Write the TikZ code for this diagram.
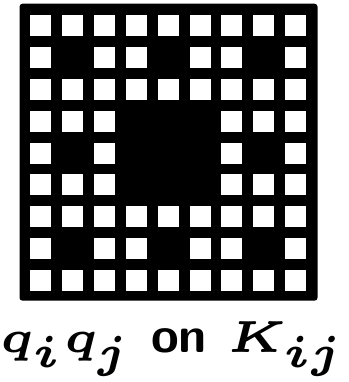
\documentclass[tikz,border=0pt]{standalone}
\usepackage{amsmath,amsfonts}
\usepackage{tikz}
\usepackage{xcolor}
\usetikzlibrary{positioning}

\begin{document}
\begin{tikzpicture}[
    x=1pt, y=1pt,
    board/.style={fill=black, rounded corners=3pt, inner sep=0pt, minimum width=298pt, minimum height=297pt},
    cell/.style={fill=white, inner sep=0pt, minimum size=21pt},
    caption/.style={font=\tiny\bfseries\boldmath, inner sep=0pt, anchor=base, scale=9, transform shape}
]
\useasboundingbox (0,0) rectangle (348,382);
\node[board] (board) at (168.5,229.8) {};
\foreach \r in {0,...,8}{
  \foreach \c in {0,...,8}{
    \pgfmathtruncatemacro\hole{(mod(\r,3)==1 && mod(\c,3)==1) || (div(\r,3)==1 && div(\c,3)==1)}
    \ifnum\hole=0
      \node[cell] (cell-\r-\c) at (40.5+31.9*\c, 356.5-31.9*\r) {};
    \fi
  }
}
\node[caption] (label) at (172.5,30) {$q_iq_j$\hspace{2.2pt}{\sffamily\fontsize{5.6}{7}\selectfont on}\hspace{2.2pt}$K_{ij}$};
\end{tikzpicture}
\end{document}
